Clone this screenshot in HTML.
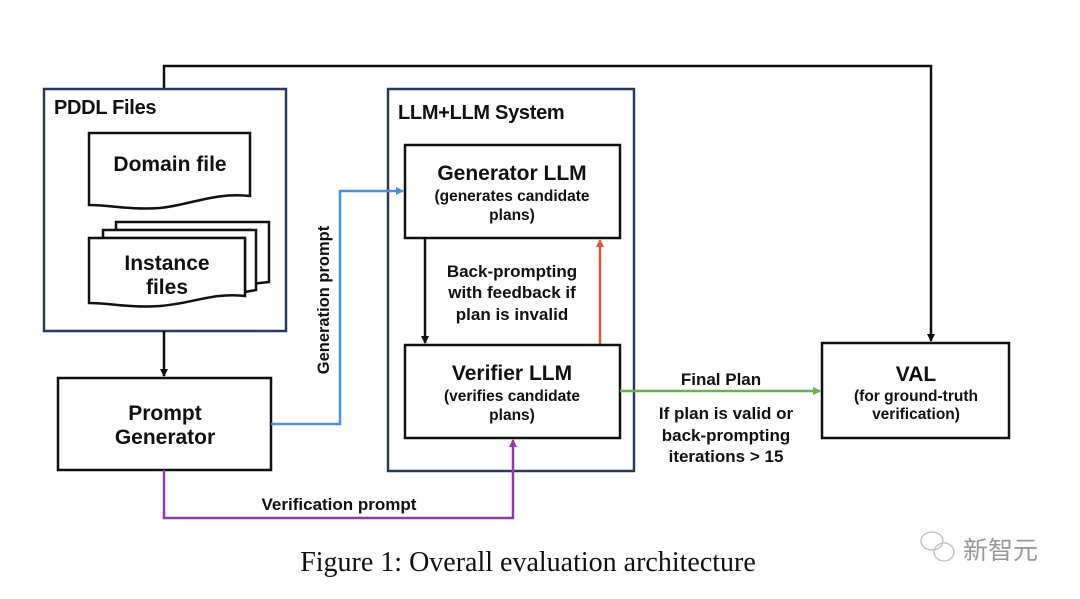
<!DOCTYPE html>
<html><head><meta charset="utf-8"><style>
html,body{margin:0;padding:0;background:#fff;}
svg{display:block;}
text{font-family:"Liberation Sans","DejaVu Sans",sans-serif;font-weight:bold;fill:#111;}
</style></head><body>
<svg width="1080" height="599" viewBox="0 0 1080 599" xmlns="http://www.w3.org/2000/svg">
<defs>
<marker id="ak" markerWidth="8" markerHeight="8" refX="7" refY="4" orient="auto" markerUnits="userSpaceOnUse"><path d="M0,0 L8,4 L0,8 z" fill="#111"/></marker>
<marker id="ab" markerWidth="8" markerHeight="8" refX="7" refY="4" orient="auto" markerUnits="userSpaceOnUse"><path d="M0,0 L8,4 L0,8 z" fill="#4a90e2"/></marker>
<marker id="ar" markerWidth="8" markerHeight="8" refX="7" refY="4" orient="auto" markerUnits="userSpaceOnUse"><path d="M0,0 L8,4 L0,8 z" fill="#e8553f"/></marker>
<marker id="ag" markerWidth="8" markerHeight="8" refX="7" refY="4" orient="auto" markerUnits="userSpaceOnUse"><path d="M0,0 L8,4 L0,8 z" fill="#6ab04c"/></marker>
<marker id="ap" markerWidth="8" markerHeight="8" refX="7" refY="4" orient="auto" markerUnits="userSpaceOnUse"><path d="M0,0 L8,4 L0,8 z" fill="#8e3bb0"/></marker>
</defs>
<polyline points="164,89 164,66 931,66 931,341" fill="none" stroke="#111" stroke-width="2.5" marker-end="url(#ak)"/>
<rect x="44" y="89" width="242" height="242" fill="#fff" stroke="#2a3a5a" stroke-width="2.5"/>
<text x="54" y="114" font-size="20" letter-spacing="-0.3">PDDL Files</text>
<path d="M89,133 H250 V196 C215,192 190,205 160,208 C130,210 110,205 89,205 Z" fill="#fff" stroke="#111" stroke-width="2.5"/>
<text x="170" y="171" font-size="21" text-anchor="middle">Domain file</text>
<path d="M116,222 H269 V282 L250,284 V230 H116 Z" fill="#fff" stroke="#111" stroke-width="2.5"/>
<path d="M103,230 H256 V290 L245,292 V238 H103 Z" fill="#fff" stroke="#111" stroke-width="2.5"/>
<path d="M89,238 H245 V296 C215,292 190,304 160,306 C130,308 110,303 89,303 Z" fill="#fff" stroke="#111" stroke-width="2.5"/>
<text x="167" y="270" font-size="21" text-anchor="middle">Instance</text>
<text x="167" y="294" font-size="21" text-anchor="middle">files</text>
<line x1="164" y1="331" x2="164" y2="376" stroke="#111" stroke-width="2.5" marker-end="url(#ak)"/>
<rect x="58" y="378" width="213" height="92" fill="#fff" stroke="#111" stroke-width="2.5"/>
<text x="165" y="420" font-size="21" text-anchor="middle">Prompt</text>
<text x="165" y="444" font-size="21" text-anchor="middle">Generator</text>
<text transform="translate(329,300) rotate(-90)" font-size="16.5" text-anchor="middle">Generation prompt</text>
<rect x="388" y="89" width="246" height="382" fill="#fff" stroke="#2a3a5a" stroke-width="2.5"/>
<polyline points="271,424 340,424 340,191 403,191" fill="none" stroke="#4a90e2" stroke-width="2.5" marker-end="url(#ab)"/>
<text x="398" y="119" font-size="20" letter-spacing="-0.3">LLM+LLM System</text>
<rect x="405" y="145" width="215" height="93" fill="#fff" stroke="#111" stroke-width="2.5"/>
<text x="512" y="180" font-size="21" text-anchor="middle">Generator LLM</text>
<text x="512" y="201" font-size="15.5" text-anchor="middle">(generates candidate</text>
<text x="512" y="220" font-size="15.5" text-anchor="middle">plans)</text>
<line x1="425" y1="238" x2="425" y2="343" stroke="#111" stroke-width="2.5" marker-end="url(#ak)"/>
<line x1="600" y1="345" x2="600" y2="240" stroke="#e8553f" stroke-width="2.5" marker-end="url(#ar)"/>
<text x="512" y="277" font-size="17" text-anchor="middle">Back-prompting</text>
<text x="512" y="298" font-size="17" text-anchor="middle">with feedback if</text>
<text x="512" y="320" font-size="17" text-anchor="middle">plan is invalid</text>
<rect x="405" y="345" width="215" height="93" fill="#fff" stroke="#111" stroke-width="2.5"/>
<text x="512" y="380" font-size="21" text-anchor="middle">Verifier LLM</text>
<text x="512" y="401" font-size="15.5" text-anchor="middle">(verifies candidate</text>
<text x="512" y="420" font-size="15.5" text-anchor="middle">plans)</text>
<line x1="620" y1="391" x2="820" y2="391" stroke="#6ab04c" stroke-width="2.5" marker-end="url(#ag)"/>
<text x="721" y="385" font-size="17" text-anchor="middle">Final Plan</text>
<text x="726" y="419" font-size="17" text-anchor="middle">If plan is valid or</text>
<text x="726" y="441" font-size="17" text-anchor="middle">back-prompting</text>
<text x="726" y="462" font-size="17" text-anchor="middle">iterations &gt; 15</text>
<rect x="822" y="343" width="187" height="95" fill="#fff" stroke="#111" stroke-width="2.5"/>
<text x="916" y="381" font-size="21" text-anchor="middle">VAL</text>
<text x="916" y="401" font-size="15.5" text-anchor="middle">(for ground-truth</text>
<text x="916" y="419" font-size="15.5" text-anchor="middle">verification)</text>
<polyline points="164,470 164,518 513,518 513,440" fill="none" stroke="#8e3bb0" stroke-width="2.5" marker-end="url(#ap)"/>
<text x="339" y="510" font-size="17" text-anchor="middle">Verification prompt</text>
<text x="528" y="571" font-size="28" text-anchor="middle" style="font-family:'Liberation Serif',serif;font-weight:normal">Figure 1: Overall evaluation architecture</text>
<g fill="none" stroke="#bbb" stroke-width="1.2">
<ellipse cx="932" cy="541" rx="11" ry="9"/>
<ellipse cx="944" cy="552" rx="10" ry="9"/>
</g>
<text x="963" y="559" font-size="25" style="font-family:'Noto Sans CJK SC',sans-serif;font-weight:normal;fill:#999">新智元</text>
</svg>
</body></html>
